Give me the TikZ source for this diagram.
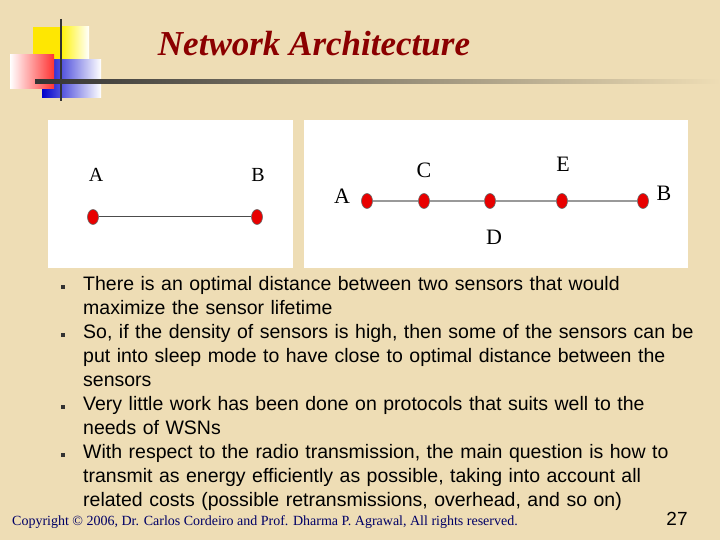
\documentclass[tikz,border=0pt]{standalone}
\usepackage{fontspec}
\setmainfont{Liberation Sans}
\newfontfamily\serifx{Liberation Serif}
\definecolor{bgc}{HTML}{EEDDB5}
\definecolor{ttl}{HTML}{8B0000}
\definecolor{dotred}{HTML}{E80000}
\usetikzlibrary{shapes.geometric}
\tikzset{x=1pt,y=-1pt,
 panel/.style={fill=white,draw=none},
 sensor/.style={ellipse,fill=dotred,draw=black!60,line width=0.6pt,inner sep=0pt,minimum width=11pt,minimum height=15pt},
 lab/.style={font=\serifx\fontsize{20}{20}\selectfont,inner sep=0pt},
 link/.style={draw=gray!80,line width=1.6pt},
 btxt/.style={anchor=north west,inner sep=0pt,align=left,text width=630pt,font=\fontsize{19.5}{24}\selectfont},
 bul/.style={fill=black!80,minimum size=4pt,inner sep=0pt}}
\begin{document}
\begin{tikzpicture}
\useasboundingbox (0,0) rectangle (720,540);
\fill[bgc] (0,0) rectangle (720,540);
% logo
\fill[yellow!90!orange] (33,27) rectangle (70,63);
\shade[left color=yellow!90!orange,right color=white] (60,27) rectangle (89,63);
\shade[left color=blue!80!black,right color=white] (42,60) rectangle (101,98);
\shade[left color=white,right color=red!80] (10,55) rectangle (54,89);
\draw[black!80,line width=2pt] (61,19) -- (61,101);
\shade[left color=black!80,right color=bgc] (35,80) rectangle (720,84);
\node[ttl,font=\serifx\bfseries\itshape\fontsize{35}{35}\selectfont] (title) at (314,44) {Network Architecture};
% panels
\fill[panel] (48,120) rectangle (293,268);
\fill[panel] (304,120) rectangle (688,268);
\node[sensor] (la) at (93,217) {};
\node[sensor] (lb) at (257,217) {};
\draw[draw=black!70,line width=1pt] (la) -- (lb);
\node[lab] (tla) at (96,175) {A};
\node[lab] (tlb) at (258,175) {B};
\node[sensor] (ra) at (367,201) {};
\node[sensor] (rc) at (424,201) {};
\node[sensor] (rd) at (490,201) {};
\node[sensor] (re) at (562,201) {};
\node[sensor] (rb) at (643,201) {};
\draw[link] (ra) -- (rc) -- (rd) -- (re) -- (rb);
\node[lab,font=\serifx\fontsize{22}{22}\selectfont] (tra) at (342,196) {A};
\node[lab,font=\serifx\fontsize{22}{22}\selectfont] (trc) at (424,170) {C};
\node[lab,font=\serifx\fontsize{22}{22}\selectfont] (tre) at (563,164) {E};
\node[lab,font=\serifx\fontsize{22}{22}\selectfont] (trd) at (494,237) {D};
\node[lab,font=\serifx\fontsize{22}{22}\selectfont] (trb) at (664,193) {B};
% bullets
\node[bul] (b1) at (63,287) {};
\node[bul] (b2) at (63,335) {};
\node[bul] (b3) at (63,407) {};
\node[bul] (b4) at (63,455) {};
\node[btxt] (t1) at (83,276) {There is an optimal distance between two sensors that would\\maximize the sensor lifetime};
\node[btxt] (t2) at (83,324) {So, if the density of sensors is high, then some of the sensors can be\\put into sleep mode to have close to optimal distance between the\\sensors};
\node[btxt] (t3) at (83,396) {Very little work has been done on protocols that suits well to the\\needs of WSNs};
\node[btxt] (t4) at (83,444) {With respect to the radio transmission, the main question is how to\\transmit as energy efficiently as possible, taking into account all\\related costs (possible retransmissions, overhead, and so on)};
\node[anchor=west,inner sep=0pt,font=\serifx\fontsize{14}{14}\selectfont,blue!40!black] (foot) at (12,522) {Copyright \textcopyright{} 2006, Dr. Carlos Cordeiro and Prof. Dharma P. Agrawal, All rights reserved.};
\node[inner sep=0pt,font=\fontsize{19}{19}\selectfont] (pg) at (677,519) {27};
\end{tikzpicture}
\end{document}
